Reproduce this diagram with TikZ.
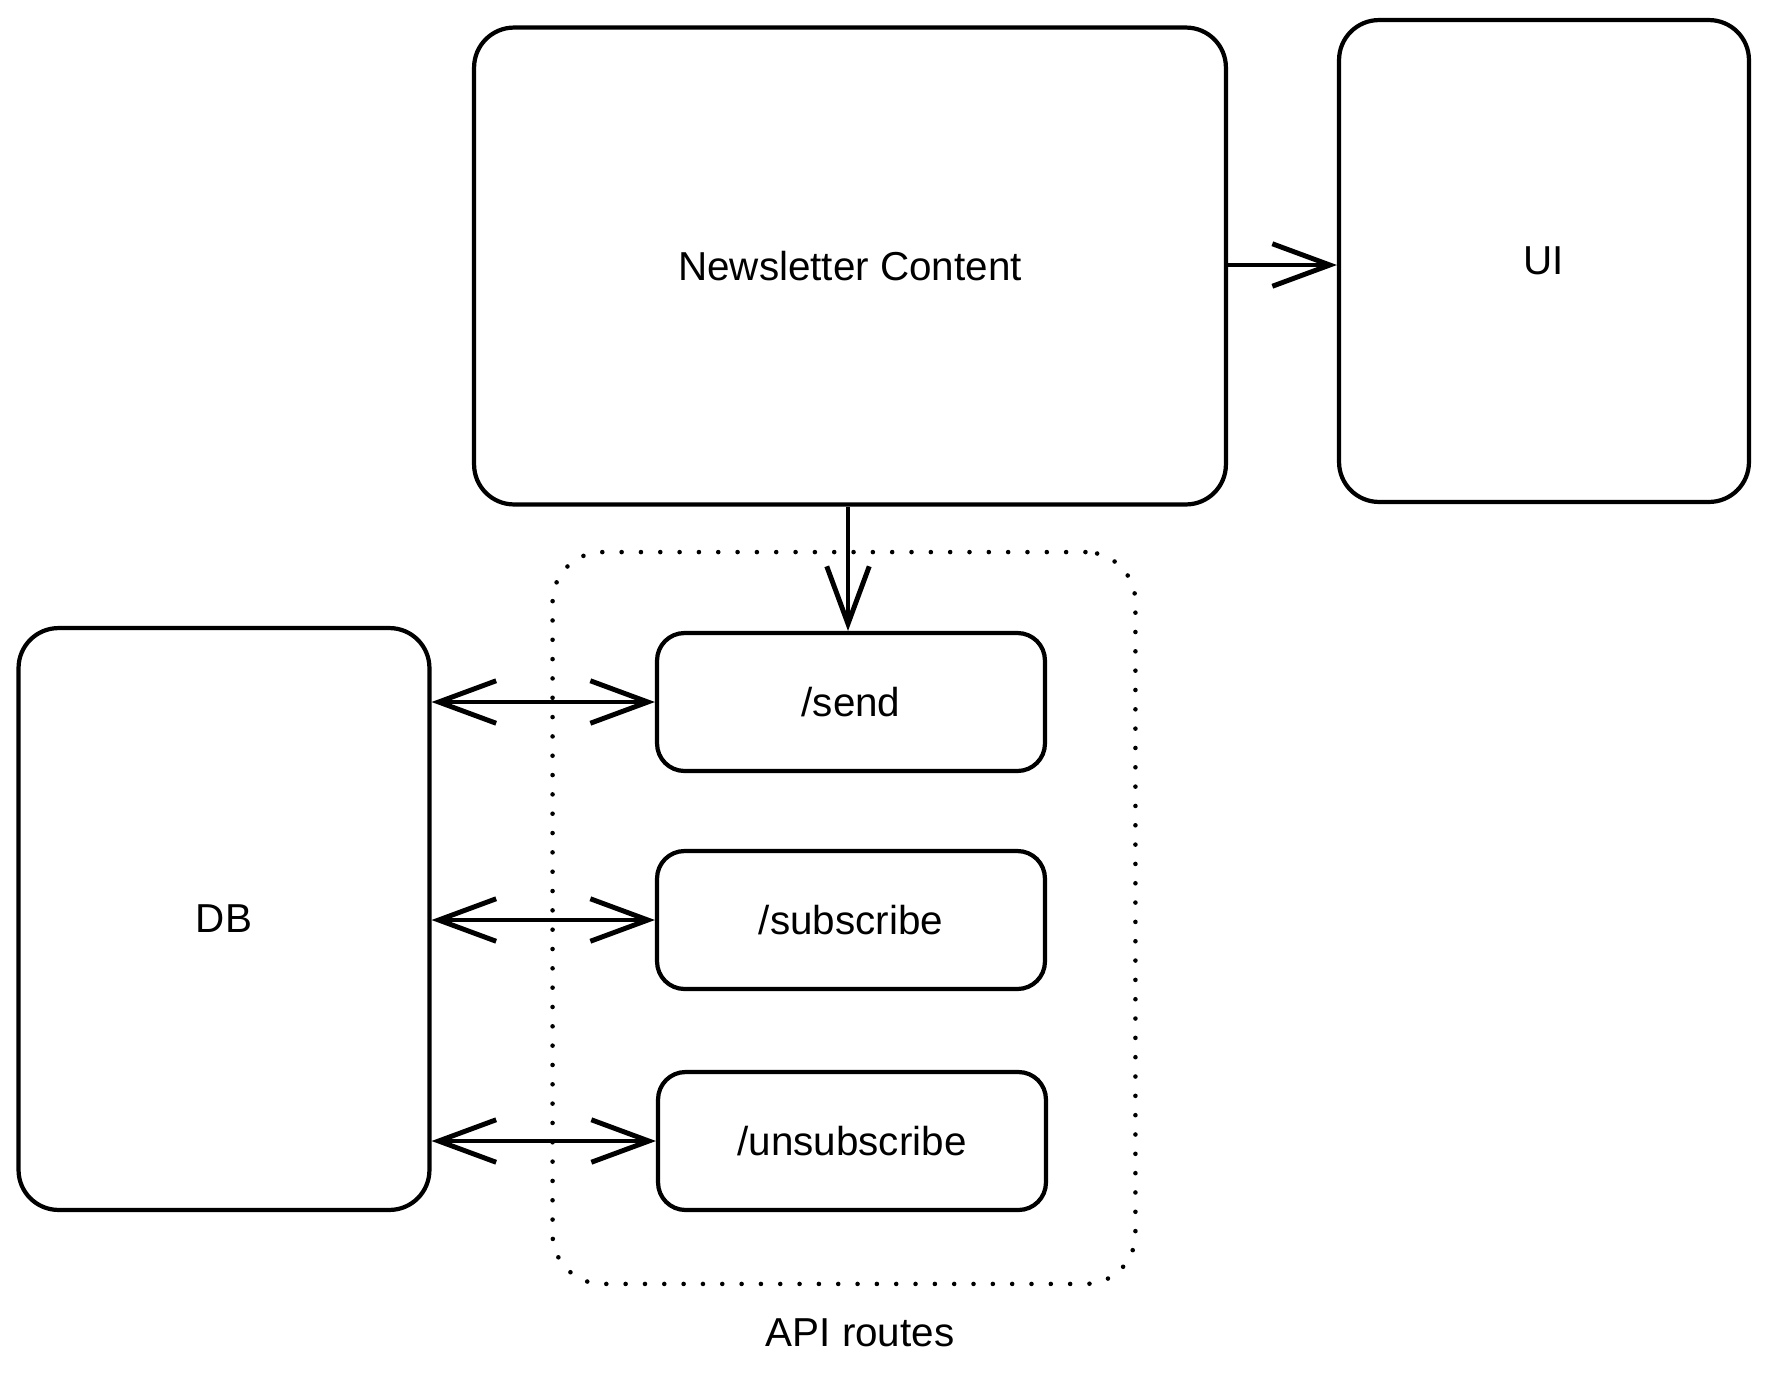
\documentclass[tikz,border=0pt]{standalone}
\usepackage{fontspec}
\setmainfont{Liberation Sans}
\usetikzlibrary{arrows.meta}
\tikzset{>={Straight Barb[length=1.15cm, width=0.85cm, line width=2.8pt]}}
\tikzset{
    box/.style={draw, line width=2.4pt, rounded corners=0.8cm, font=\fontsize{23}{27}\selectfont},
    route/.style={draw, line width=2.4pt, rounded corners=0.55cm, minimum width=7.76cm, minimum height=2.76cm, font=\fontsize{23}{27}\selectfont},
    apibox/.style={draw, line width=2.6pt, dash pattern=on 0pt off 11pt, line cap=round, rounded corners=1cm},
    link/.style={line width=2.8pt}
}

\begin{document}
\begin{tikzpicture}[x=0.02cm, y=-0.02cm]
    \useasboundingbox (0,0) rectangle (1769,1377);
    \node[box, minimum width=15.04cm, minimum height=9.54cm] (news) at (850,266) {Newsletter Content};
    \node[box, minimum width=8.2cm, minimum height=9.64cm] (ui) at (1544,261) {UI};
    \node[box, minimum width=8.22cm, minimum height=11.64cm] (db) at (224,919) {DB};
    \node[apibox, minimum width=11.66cm, minimum height=14.64cm] (api) at (844,918) {};
    \node[route] (send) at (851,702) {/send};
    \node[route] (subscribe) at (851,920) {/subscribe};
    \node[route] (unsubscribe) at (852,1141) {/unsubscribe};
    \node[font=\fontsize{23}{27}\selectfont] (apilabel) at (860,1333) {API routes};

    % connectors
    \draw[link, ->] (news.east |- 0,265) -- (ui.west |- 0,265);
    \draw[link, ->] (news.south -| 848,0) -- (send.north -| 848,0);
    \draw[link, <->] (send.west -| db.east) -- (send.west);
    \draw[link, <->] (subscribe.west -| db.east) -- (subscribe.west);
    \draw[link, <->] (unsubscribe.west -| db.east) -- (unsubscribe.west);
\end{tikzpicture}
\end{document}
